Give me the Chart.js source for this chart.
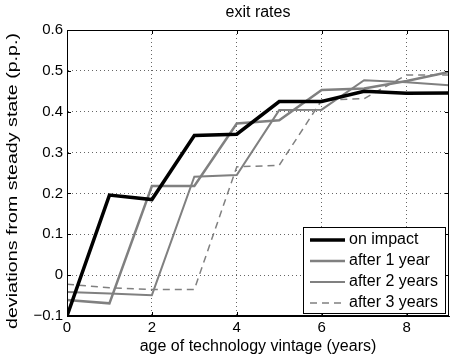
<!DOCTYPE html>
<html>
<head>
<meta charset="utf-8">
<script src="https://cdn.jsdelivr.net/npm/chart.js@4/dist/chart.umd.min.js"></script>
<style>
  html, body { margin: 0; padding: 0; background: #fff; }
  #wrap { width: 450px; height: 357px; }
</style>
</head>
<body>
<div id="wrap"><canvas id="chart" width="450" height="357"></canvas></div>
<script>
// values
const ages = [0, 1, 2, 3, 4, 5, 6, 7, 8, 9];
const onImpact    = [-0.100,  0.196,  0.185,  0.342, 0.345, 0.425, 0.425, 0.450, 0.445, 0.446];
const after1Year  = [-0.061, -0.069,  0.218,  0.218, 0.371, 0.379, 0.453, 0.457, 0.475, 0.497];
const after2Years = [-0.041, -0.045, -0.049,  0.241, 0.245, 0.404, 0.405, 0.477, 0.472, 0.465];
const after3Years = [-0.022, -0.031, -0.035, -0.035, 0.265, 0.269, 0.428, 0.432, 0.490, 0.490];
const seriesNames = ['on impact', 'after 1 year', 'after 2 years', 'after 3 years'];
const xTicks = [0, 2, 4, 6, 8];
const yTicks = [-0.1, 0, 0.1, 0.2, 0.3, 0.4, 0.5, 0.6];

const FONT = "'Liberation Sans', Arial, Helvetica, sans-serif";
const GRAY = '#808080';

function pts(vals) {
  return vals.map((v, i) => ({ x: ages[i], y: v }));
}

// titles, box, inward ticks and legend, MATLAB style
const decor = {
  id: 'decor',
  afterDraw(chart) {
    const ctx = chart.ctx;
    const a = chart.chartArea;
    const xs = chart.scales.x, ys = chart.scales.y;
    ctx.save();
    ctx.strokeStyle = '#000';
    ctx.lineWidth = 1;
    // box
    ctx.strokeRect(a.left + 0.5, a.top + 0.5, a.right - a.left - 1, a.bottom - a.top - 1);
    // ticks pointing in
    ctx.beginPath();
    xTicks.forEach(v => {
      const px = Math.round(xs.getPixelForValue(v)) + 0.5;
      ctx.moveTo(px, a.bottom); ctx.lineTo(px, a.bottom - 4);
      ctx.moveTo(px, a.top); ctx.lineTo(px, a.top + 4);
    });
    yTicks.forEach(v => {
      const py = Math.round(ys.getPixelForValue(v)) + 0.5;
      ctx.moveTo(a.left, py); ctx.lineTo(a.left + 4, py);
      ctx.moveTo(a.right, py); ctx.lineTo(a.right - 4, py);
    });
    ctx.stroke();

    // titles
    ctx.fillStyle = '#000';
    ctx.font = '16px ' + FONT;
    ctx.textAlign = 'center';
    ctx.textBaseline = 'middle';
    const cx = (a.left + a.right) / 2;
    ctx.fillText('exit rates', cx, 13);
    ctx.fillText('age of technology vintage (years)', cx, 347);
    ctx.font = '15px ' + FONT;
    const yl = 'deviations from steady state (p.p.)';
    const w = ctx.measureText(yl).width;
    ctx.save();
    ctx.translate(13, 181);
    ctx.rotate(-Math.PI / 2);
    ctx.scale(296 / w, 1);
    ctx.fillText(yl, 0, 0);
    ctx.restore();

    // legend
    ctx.font = '16px ' + FONT;
    const lx = 303.5, ly = 227.5, lw = 142, lh = 86;
    ctx.fillStyle = '#fff';
    ctx.fillRect(lx, ly, lw, lh);
    ctx.strokeStyle = '#000';
    ctx.lineWidth = 1;
    ctx.strokeRect(lx, ly, lw, lh);
    const rows = [240, 261, 282, 303];
    chart.data.datasets.forEach((ds, i) => {
      const y = rows[i];
      ctx.beginPath();
      ctx.strokeStyle = ds.borderColor;
      ctx.lineWidth = ds.borderWidth;
      ctx.setLineDash(ds.borderDash || []);
      ctx.moveTo(310, y); ctx.lineTo(345, y);
      ctx.stroke();
      ctx.setLineDash([]);
      ctx.fillStyle = '#000';
      ctx.textAlign = 'left';
      ctx.fillText(ds.label, 349, y);
    });
    ctx.restore();
  }
};

const ctx = document.getElementById('chart').getContext('2d');
const chart = new Chart(ctx, {
  type: 'line',
  data: {
    datasets: [
      { label: seriesNames[0], data: pts(onImpact),    borderColor: '#000', borderWidth: 3.5 },
      { label: seriesNames[1], data: pts(after1Year),  borderColor: GRAY,   borderWidth: 2.5 },
      { label: seriesNames[2], data: pts(after2Years), borderColor: GRAY,   borderWidth: 2 },
      { label: seriesNames[3], data: pts(after3Years), borderColor: GRAY,   borderWidth: 1.5, borderDash: [7, 5] }
    ].map(d => Object.assign({ pointRadius: 0, tension: 0, fill: false, borderJoinStyle: 'miter' }, d))
  },
  options: {
    responsive: false,
    animation: false,
    devicePixelRatio: 1,
    layout: { padding: { top: 30, right: 1, bottom: 0, left: 0 } },
    plugins: { legend: { display: false }, title: { display: false }, tooltip: { enabled: false } },
    scales: {
      x: {
        type: 'linear', min: 0, max: 9,
        afterBuildTicks: s => { s.ticks = xTicks.map(v => ({ value: v })); },
        afterFit: s => { s.height = 41; },
        ticks: { color: '#000', font: { family: FONT, size: 15 }, padding: 3, maxRotation: 0 },
        grid: { color: 'rgba(0,0,0,0.6)', lineWidth: 1, drawTicks: false },
        border: { display: true, color: '#000', width: 1, dash: [1, 3] }
      },
      y: {
        type: 'linear', min: -0.1, max: 0.6,
        afterBuildTicks: s => { s.ticks = yTicks.map(v => ({ value: v })); },
        afterFit: s => { s.width = 67; },
        ticks: {
          color: '#000', font: { family: FONT, size: 15 }, padding: 4,
          callback: v => Math.abs(v) < 1e-9 ? '0' : (v < 0 ? '\u2212' + Math.abs(v).toFixed(1) : v.toFixed(1))
        },
        grid: { color: 'rgba(0,0,0,0.6)', lineWidth: 1, drawTicks: false },
        border: { display: true, color: '#000', width: 1, dash: [1, 3] }
      }
    }
  },
  plugins: [decor]
});
</script>
</body>
</html>
